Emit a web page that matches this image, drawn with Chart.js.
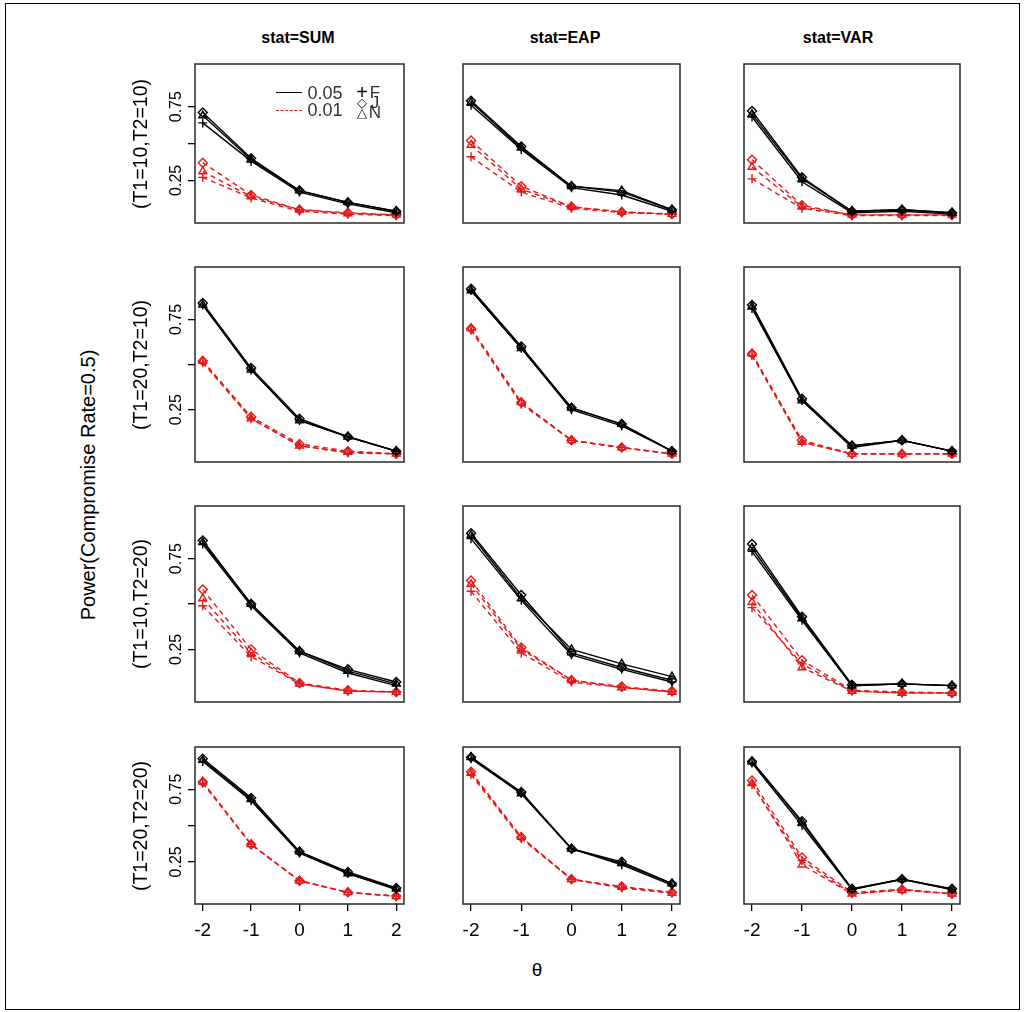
<!DOCTYPE html>
<html lang="en">
<head>
<meta charset="UTF-8">
<title>Power by theta</title>
<script src="https://cdn.jsdelivr.net/npm/chart.js"></script>
<style>
  body { margin: 0; background: #fff; font-family: "Liberation Sans", Arial, sans-serif; }
  #page { position: relative; width: 1025px; height: 1012px; overflow: hidden; }
  #frame { position: absolute; left: 5px; top: 3px; width: 1013px; height: 1005px; border: 1px solid #000; }
  canvas { position: absolute; }
  .txt { position: absolute; white-space: nowrap; color: #000; transform: translate(-50%, -50%); }
  .rot { transform: translate(-50%, -50%) rotate(-90deg); }
  .title { font-weight: bold; font-size: 16px; }
  .leg-line { position: absolute; width: 26px; height: 0; }
</style>
</head>
<body>
<div id="page">
  <div id="frame"></div>
</div>
<script>
const theta = [-2, -1, 0, 1, 2];
const methods = ['F', 'J', 'N'];
const stats = ['stat=SUM', 'stat=EAP', 'stat=VAR'];
const designs = ['(T1=10,T2=10)', '(T1=20,T2=10)', '(T1=10,T2=20)', '(T1=20,T2=20)'];
const yTicks = [0.25, 0.5, 0.75];
const yTickLabels = ['0.25', '', '0.75'];

// power values, one row per method (F, J, N)
const sum1010_05 = [[0.64, 0.38, 0.17, 0.09, 0.03], [0.71, 0.40, 0.18, 0.10, 0.04], [0.69, 0.39, 0.18, 0.10, 0.04]];
const sum1010_01 = [[0.27, 0.13, 0.04, 0.02, 0.01], [0.37, 0.15, 0.05, 0.03, 0.015], [0.31, 0.14, 0.05, 0.025, 0.015]];
const eap1010_05 = [[0.76, 0.46, 0.20, 0.15, 0.04], [0.79, 0.48, 0.21, 0.17, 0.05], [0.78, 0.47, 0.21, 0.18, 0.05]];
const eap1010_01 = [[0.41, 0.17, 0.06, 0.03, 0.02], [0.52, 0.21, 0.07, 0.035, 0.02], [0.49, 0.19, 0.07, 0.035, 0.02]];
const var1010_05 = [[0.68, 0.24, 0.03, 0.04, 0.02], [0.72, 0.27, 0.04, 0.05, 0.03], [0.70, 0.26, 0.04, 0.05, 0.03]];
const var1010_01 = [[0.26, 0.06, 0.01, 0.01, 0.01], [0.39, 0.08, 0.015, 0.015, 0.015], [0.34, 0.07, 0.015, 0.015, 0.015]];

const sum2010_05 = [[0.83, 0.47, 0.19, 0.10, 0.02], [0.84, 0.48, 0.20, 0.10, 0.02], [0.83, 0.47, 0.19, 0.10, 0.02]];
const sum2010_01 = [[0.51, 0.20, 0.05, 0.01, 0.005], [0.52, 0.21, 0.06, 0.02, 0.005], [0.52, 0.20, 0.05, 0.015, 0.005]];
const eap2010_05 = [[0.91, 0.59, 0.25, 0.16, 0.02], [0.92, 0.60, 0.26, 0.17, 0.02], [0.91, 0.59, 0.26, 0.17, 0.02]];
const eap2010_01 = [[0.69, 0.28, 0.08, 0.04, 0.005], [0.70, 0.29, 0.08, 0.04, 0.005], [0.70, 0.29, 0.08, 0.04, 0.005]];
const var2010_05 = [[0.81, 0.30, 0.04, 0.08, 0.02], [0.83, 0.31, 0.05, 0.08, 0.02], [0.82, 0.30, 0.05, 0.08, 0.02]];
const var2010_01 = [[0.55, 0.07, 0.005, 0.005, 0.005], [0.56, 0.08, 0.005, 0.005, 0.005], [0.56, 0.07, 0.005, 0.005, 0.005]];

const sum1020_05 = [[0.83, 0.49, 0.23, 0.12, 0.05], [0.85, 0.50, 0.24, 0.14, 0.07], [0.84, 0.50, 0.24, 0.13, 0.06]];
const sum1020_01 = [[0.49, 0.21, 0.06, 0.02, 0.015], [0.58, 0.25, 0.065, 0.025, 0.015], [0.53, 0.23, 0.06, 0.02, 0.015]];
const eap1020_05 = [[0.86, 0.52, 0.22, 0.14, 0.07], [0.89, 0.55, 0.23, 0.15, 0.08], [0.88, 0.53, 0.25, 0.17, 0.10]];
const eap1020_01 = [[0.57, 0.23, 0.07, 0.04, 0.015], [0.63, 0.26, 0.08, 0.045, 0.02], [0.61, 0.25, 0.08, 0.04, 0.015]];
const var1020_05 = [[0.79, 0.41, 0.05, 0.06, 0.05], [0.83, 0.43, 0.055, 0.06, 0.05], [0.81, 0.42, 0.05, 0.06, 0.05]];
const var1020_01 = [[0.48, 0.17, 0.02, 0.01, 0.01], [0.55, 0.19, 0.025, 0.015, 0.01], [0.51, 0.15, 0.02, 0.01, 0.01]];

const sum2020_05 = [[0.94, 0.67, 0.31, 0.17, 0.06], [0.96, 0.69, 0.32, 0.18, 0.07], [0.95, 0.68, 0.32, 0.17, 0.065]];
const sum2020_01 = [[0.79, 0.37, 0.12, 0.04, 0.013], [0.80, 0.37, 0.12, 0.04, 0.015], [0.80, 0.37, 0.12, 0.04, 0.013]];
const eap2020_05 = [[0.96, 0.72, 0.34, 0.23, 0.09], [0.97, 0.73, 0.34, 0.25, 0.10], [0.97, 0.72, 0.34, 0.24, 0.10]];
const eap2020_01 = [[0.85, 0.41, 0.13, 0.07, 0.035], [0.87, 0.42, 0.13, 0.08, 0.04], [0.86, 0.42, 0.13, 0.077, 0.036]];
const var2020_05 = [[0.93, 0.50, 0.06, 0.13, 0.06], [0.94, 0.53, 0.065, 0.13, 0.065], [0.94, 0.52, 0.06, 0.13, 0.06]];
const var2020_01 = [[0.78, 0.26, 0.03, 0.06, 0.03], [0.81, 0.28, 0.04, 0.06, 0.03], [0.79, 0.23, 0.03, 0.055, 0.03]];

// panels by row (design) and column (stat)
const panels05 = [
  [sum1010_05, eap1010_05, var1010_05],
  [sum2010_05, eap2010_05, var2010_05],
  [sum1020_05, eap1020_05, var1020_05],
  [sum2020_05, eap2020_05, var2020_05]
];
const panels01 = [
  [sum1010_01, eap1010_01, var1010_01],
  [sum2010_01, eap2010_01, var2010_01],
  [sum1020_01, eap1020_01, var1020_01],
  [sum2020_01, eap2020_01, var2020_01]
];

// layout of the panel boxes (px)
const colLeft = [195, 463, 744];
const colWidth = [209, 217, 216];
const rowTop = [64, 267, 506, 747];
const rowHeight = [159, 195, 196, 157];
const ML = 45, MT = 6, MR = 6, MB = 45;

const pointShapes = ['cross', 'rectRot', 'triangle'];
const RED = 'rgb(228,24,24)';
const FONT = '"Liberation Sans", Arial, sans-serif';

const page = document.getElementById('page');

function addText(text, x, y, cls, size) {
  const d = document.createElement('div');
  d.className = 'txt ' + (cls || '');
  d.style.left = x + 'px';
  d.style.top = y + 'px';
  if (size) d.style.fontSize = size + 'px';
  d.textContent = text;
  page.appendChild(d);
  return d;
}

const panelFrame = {
  id: 'panelFrame',
  afterDraw(chart, args, opts) {
    const { ctx, chartArea: a } = chart;
    ctx.save();
    ctx.strokeStyle = '#2a2a2a';
    ctx.lineWidth = 1.5;
    ctx.strokeRect(a.left, a.top, a.right - a.left, a.bottom - a.top);
    if (opts.yLabels) {
      const ys = chart.scales.y;
      ctx.fillStyle = '#000';
      ctx.font = '16px ' + FONT;
      ctx.textAlign = 'center';
      ctx.textBaseline = 'bottom';
      yTicks.forEach((v, i) => {
        if (!yTickLabels[i]) return;
        ctx.save();
        ctx.translate(a.left - 10, ys.getPixelForValue(v));
        ctx.rotate(-Math.PI / 2);
        ctx.fillText(yTickLabels[i], 0, 0);
        ctx.restore();
      });
    }
    ctx.restore();
  }
};

function makeDatasets(vals, color, dash) {
  return vals.map((series, m) => ({
    label: methods[m],
    data: theta.map((t, i) => ({ x: t, y: series[i] })),
    borderColor: color,
    borderWidth: 1.4,
    borderDash: dash,
    pointStyle: pointShapes[m],
    pointRadius: 4.5,
    pointBorderWidth: 1.4,
    pointBorderColor: color,
    pointBackgroundColor: 'rgba(0,0,0,0)',
    tension: 0
  }));
}

for (let r = 0; r < 4; r++) {
  for (let c = 0; c < 3; c++) {
    const cv = document.createElement('canvas');
    const w = colWidth[c] + ML + MR;
    const h = rowHeight[r] + MT + MB;
    cv.width = w;
    cv.height = h;
    cv.style.left = (colLeft[c] - ML) + 'px';
    cv.style.top = (rowTop[r] - MT) + 'px';
    page.appendChild(cv);

    const showX = r === 3;
    const showY = c === 0;

    new Chart(cv, {
      type: 'line',
      data: {
        datasets: makeDatasets(panels05[r][c], '#000', []).concat(makeDatasets(panels01[r][c], RED, [5, 4]))
      },
      options: {
        responsive: false,
        animation: false,
        devicePixelRatio: 1,
        layout: { padding: { left: 0, top: MT, right: MR, bottom: 0 }, autoPadding: false },
        plugins: {
          legend: { display: false },
          tooltip: { enabled: false },
          panelFrame: { yLabels: showY }
        },
        scales: {
          x: {
            type: 'linear',
            min: -2.16,
            max: 2.16,
            afterBuildTicks: s => { s.ticks = theta.map(v => ({ value: v })); },
            afterFit: s => { s.height = MB; },
            border: { display: false },
            grid: { display: showX, drawOnChartArea: false, drawTicks: true, tickLength: 7, color: '#000', lineWidth: 1.3 },
            ticks: { display: showX, color: '#000', font: { family: FONT, size: 19 }, padding: 8, maxRotation: 0 }
          },
          y: {
            type: 'linear',
            min: -0.04,
            max: 1.04,
            afterBuildTicks: s => { s.ticks = yTicks.map(v => ({ value: v })); },
            afterFit: s => { s.width = ML; },
            border: { display: false },
            grid: { display: showY, drawOnChartArea: false, drawTicks: true, tickLength: 7, color: '#000', lineWidth: 1.3 },
            ticks: { display: false }
          }
        }
      },
      plugins: [panelFrame]
    });
  }
}

// column titles
const titleX = [298, 565, 838];
stats.forEach((s, c) => addText(s, titleX[c], 38, 'title'));

// row labels
designs.forEach((d, r) => addText(d, 140, rowTop[r] + rowHeight[r] / 2, 'rot', 19.5));

// axis titles
addText('Power(Compromise Rate=0.5)', 88, 485, 'rot', 20);
addText('\u03b8', 537, 970, '', 19);

// legend in first panel
function legLine(x, y, style, color) {
  const d = document.createElement('div');
  d.className = 'leg-line';
  d.style.left = x + 'px';
  d.style.top = y + 'px';
  d.style.borderTop = '1.5px ' + style + ' ' + color;
  page.appendChild(d);
}
legLine(276, 92, 'solid', '#000');
legLine(276, 110, 'dashed', RED);
addText('0.05', 325, 93, '', 18).style.color = '#333';
addText('0.01', 325, 110, '', 18).style.color = '#333';
addText('+', 362, 92, '', 20);
addText('\u25c7', 362, 102, '', 13);
addText('\u25b3', 362, 112, '', 13);
addText('F', 375, 93, '', 17).style.color = '#333';
addText('J', 375, 103, '', 17).style.color = '#333';
addText('N', 375, 113, '', 17).style.color = '#333';
</script>
</body>
</html>
